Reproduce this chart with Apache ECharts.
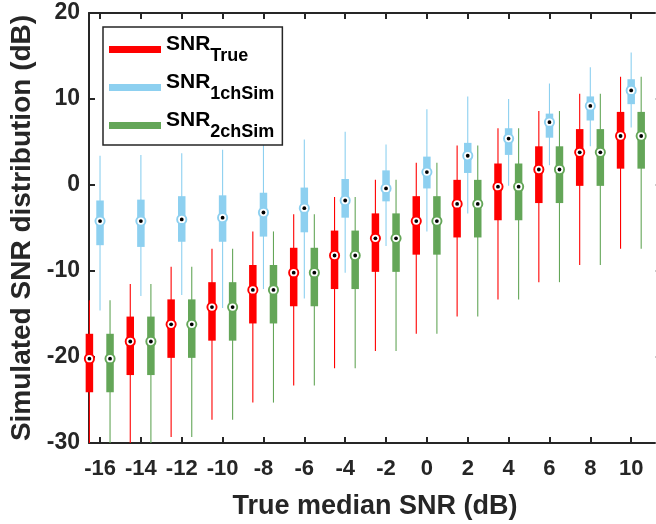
<!DOCTYPE html>
<html><head><meta charset="utf-8">
<script src="https://cdn.jsdelivr.net/npm/echarts@6/dist/echarts.min.js"></script>
<style>html,body{margin:0;padding:0;background:#fff}#c{width:656px;height:524px}</style>
</head><body><div id="c"></div>
<script>
// Group positions (true median SNR, dB) and tick labels
const positions = [-16,-14,-12,-10,-8,-6,-4,-2,0,2,4,6,8,10];
const xTickLabels = ['-16','-14','-12','-10','-8','-6','-4','-2','0','2','4','6','8','10'];
const yTicks = [-30,-20,-10,0,10,20];
// Each row: [lower whisker, Q1, median, Q3, upper whisker]
const snrTrue = [
  [-33.3,-24.1,-20.2,-17.3,-13.4],
  [-31.3,-22.1,-18.2,-15.3,-11.5],
  [-29.3,-20.1,-16.2,-13.3,-9.5],
  [-27.3,-18.1,-14.2,-11.3,-7.4],
  [-25.3,-16.1,-12.2,-9.3,-5.4],
  [-23.3,-14.1,-10.2,-7.3,-3.4],
  [-21.3,-12.1,-8.2,-5.3,-1.4],
  [-19.3,-10.1,-6.2,-3.3,0.6],
  [-17.3,-8.1,-4.2,-1.3,2.6],
  [-15.3,-6.1,-2.2,0.6,4.6],
  [-13.3,-4.1,-0.2,2.5,6.6],
  [-11.3,-2.1,1.8,4.5,8.6],
  [-9.3,-0.1,3.8,6.5,10.6],
  [-7.4,1.9,5.7,8.5,12.6]
];
const snr1ch = [
  [-14.6,-7.0,-4.2,-1.8,3.4],
  [-12.9,-7.2,-4.2,-1.7,3.5],
  [-12.8,-6.6,-4.0,-1.3,3.7],
  [-14.3,-6.6,-3.8,-1.2,4.1],
  [-12.1,-6.0,-3.2,-0.9,4.8],
  [-13.2,-5.5,-2.7,-0.3,5.3],
  [-10.2,-3.8,-1.8,0.7,6.2],
  [-7.1,-1.9,-0.4,1.7,4.7],
  [-5.4,-0.4,1.5,3.3,8.8],
  [-3.3,1.4,3.4,4.9,10.3],
  [-0.1,3.5,5.4,6.6,10.0],
  [2.3,5.5,7.3,8.3,11.8],
  [4.5,7.5,9.2,10.3,13.7],
  [6.7,9.4,11.0,12.3,15.4]
];
const snr2ch = [
  [-33.3,-24.1,-20.2,-17.3,-13.4],
  [-31.3,-22.1,-18.2,-15.3,-11.5],
  [-29.3,-20.1,-16.2,-13.3,-9.5],
  [-27.3,-18.1,-14.2,-11.3,-7.4],
  [-25.3,-16.1,-12.2,-9.3,-5.4],
  [-23.3,-14.1,-10.2,-7.3,-3.4],
  [-21.3,-12.1,-8.2,-5.3,-1.4],
  [-19.3,-10.1,-6.2,-3.3,0.6],
  [-17.3,-8.1,-4.2,-1.3,2.6],
  [-15.3,-6.1,-2.2,0.6,4.6],
  [-13.3,-4.1,-0.2,2.5,6.6],
  [-11.3,-2.1,1.8,4.5,8.6],
  [-9.3,-0.1,3.8,6.5,10.6],
  [-7.4,1.9,5.7,8.5,12.6]
];
const seriesNames = ['True','1chSim','2chSim'];

const FONT = '"Liberation Sans", Arial, sans-serif';
const AX = '#262626';
const COLORS = ['#ff0000','#8dd0f0','#64a658'];
const OFFSETS = [-0.52, 0, 0.49];

function toData(arr){ return arr.map((r,i)=>[positions[i]].concat(r)); }

function makeRender(idx){
  const color = COLORS[idx], off = OFFSETS[idx];
  return function(params, api){
    const xv = api.value(0) + off;
    const pLow = api.coord([xv, api.value(1)]);
    const pQ1 = api.coord([xv, api.value(2)]);
    const pMed = api.coord([xv, api.value(3)]);
    const pQ3 = api.coord([xv, api.value(4)]);
    const pHigh = api.coord([xv, api.value(5)]);
    const cs = params.coordSys;
    const cl = y => Math.max(cs.y, Math.min(cs.y + cs.height, y));
    const cx = pMed[0];
    return {type:'group', children:[
      {type:'line', shape:{x1:cx,y1:cl(pHigh[1]),x2:cx,y2:cl(pLow[1])}, style:{stroke:color, lineWidth:1.1}},
      {type:'rect', shape:{x:cx-3.75, y:cl(pQ3[1]), width:7.5, height:cl(pQ1[1])-cl(pQ3[1])}, style:{fill:color}},
      {type:'circle', shape:{cx:cx, cy:pMed[1], r:4.6}, style:{fill:'#fff', stroke:color, lineWidth:1.9}},
      {type:'circle', shape:{cx:cx, cy:pMed[1], r:1.9}, style:{fill:'#000'}}
    ]};
  };
}

const chart = echarts.init(document.getElementById('c'), null, {renderer:'canvas'});
const XMIN = -16.54, XMAX = 11.46;
const baseX = {
  type:'value', min:XMIN, max:XMAX,
  splitLine:{show:false},
  axisLine:{show:true, onZero:false, lineStyle:{color:AX, width:2}},
  axisTick:{show:true, inside:true, length:6, customValues:positions, lineStyle:{color:AX, width:2}}
};
const option = {
  animation:false,
  backgroundColor:'#fff',
  grid:{left:89, right:-5, top:13, bottom:81, containLabel:false, outerBoundsMode:'none'},
  legend:{
    left:103, top:27, orient:'vertical',
    padding:[7,8,4,6], itemGap:7,
    itemWidth:52, itemHeight:7,
    backgroundColor:'#fff', borderColor:AX, borderWidth:1.5,
    data: seriesNames.map((n,i)=>({name:n, icon:'rect', itemStyle:{color:COLORS[i]}})),
    formatter: n => '{m|SNR}{s|' + n + '}',
    textStyle:{
      rich:{
        m:{fontSize:21, fontWeight:'bold', fontFamily:FONT, color:'#000', verticalAlign:'top'},
        s:{fontSize:18, fontWeight:'bold', fontFamily:FONT, color:'#000', verticalAlign:'top', padding:[13,0,0,0]}
      }
    },
    selectedMode:false
  },
  xAxis:[
    Object.assign({}, baseX, {
      position:'bottom',
      axisLabel:{show:true, customValues:positions, margin:15, fontSize:22, fontWeight:'bold', color:AX, fontFamily:FONT,
        formatter: v => { const k = positions.indexOf(v); return k >= 0 ? xTickLabels[k] : ''; }},
      name:'True median SNR (dB)', nameLocation:'middle', nameGap:50,
      nameTextStyle:{fontSize:27, fontWeight:'bold', color:AX, fontFamily:FONT}
    }),
    Object.assign({}, baseX, {position:'top', axisLabel:{show:false}})
  ],
  yAxis:[
    {type:'value', min:yTicks[0], max:yTicks[yTicks.length-1], interval:10, position:'left',
      splitLine:{show:false},
      axisLine:{show:true, onZero:false, lineStyle:{color:AX, width:2}},
      axisTick:{show:true, inside:true, length:6, lineStyle:{color:AX, width:2}},
      axisLabel:{fontSize:23, fontWeight:'bold', color:AX, margin:9, fontFamily:FONT},
      name:'Simulated SNR distribution (dB)', nameLocation:'middle', nameGap:52,
      nameTextStyle:{fontSize:28, fontWeight:'bold', color:AX, fontFamily:FONT}
    },
    {type:'value', min:yTicks[0], max:yTicks[yTicks.length-1], interval:10, position:'right',
      splitLine:{show:false},
      axisLine:{show:true, onZero:false, lineStyle:{color:AX, width:2}},
      axisTick:{show:true, inside:true, length:5.5, lineStyle:{color:'#999', width:2}},
      axisLabel:{show:false}
    }
  ],
  series:[snrTrue, snr1ch, snr2ch].map((arr,i)=>({
    name:seriesNames[i], type:'custom', coordinateSystem:'cartesian2d',
    xAxisIndex:0, yAxisIndex:0,
    itemStyle:{color:COLORS[i]},
    encode:{x:0, y:[1,2,3,4,5]},
    renderItem: makeRender(i),
    data: toData(arr)
  }))
};
chart.setOption(option);
</script>
</body></html>
